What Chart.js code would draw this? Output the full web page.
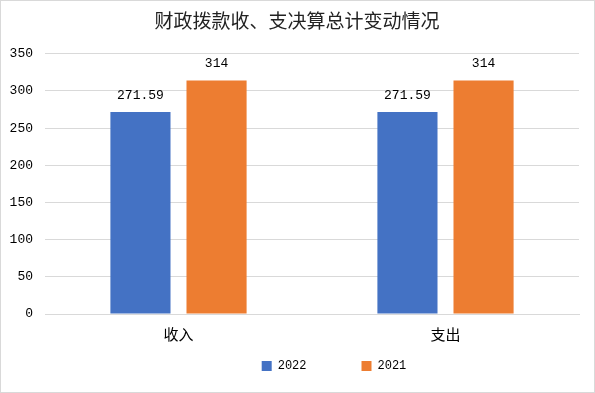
<!DOCTYPE html>
<html lang="zh">
<head>
    <meta charset="UTF-8">
    <title>财政拨款收、支决算总计变动情况</title>
    <script src="https://cdn.jsdelivr.net/npm/chart.js"></script>
    <style>
        html, body { margin: 0; padding: 0; background: #fff; }
        #wrap {
            width: 593px;
            height: 391px;
            border: 1px solid #d9d9d9;
        }
    </style>
</head>
<body>
    <div id="wrap"><canvas id="fundChart" width="593" height="391"></canvas></div>
    <script>
        // 数据
        const categories = ['收入', '支出'];
        const series2022 = [271.59, 271.59];
        const series2021 = [314, 314];
        const yTicks = [0, 50, 100, 150, 200, 250, 300, 350];

        const cjkFont = '"Noto Sans CJK SC", sans-serif';
        const monoFont = '"Liberation Mono", "DejaVu Sans Mono", monospace';

        // 柱顶数值标签
        const valueLabels = {
            id: 'valueLabels',
            afterDatasetsDraw(chart) {
                const ctx = chart.ctx;
                ctx.save();
                ctx.font = '13px ' + monoFont;
                ctx.fillStyle = '#000';
                ctx.textAlign = 'center';
                ctx.textBaseline = 'middle';
                chart.data.datasets.forEach((ds, i) => {
                    chart.getDatasetMeta(i).data.forEach((bar, j) => {
                        ctx.fillText(String(ds.data[j]), bar.x, bar.y - 17);
                    });
                });
                ctx.restore();
            }
        };

        // 标题、图例位置微调（Excel 式布局）
        const layoutTweaks = {
            id: 'layoutTweaks',
            afterLayout(chart) {
                const lg = chart.legend;
                lg.top = 304;
                lg.bottom = 391;
                lg.left += 44;
                lg.right += 44;
                const tb = chart.titleBlock;
                if (tb) {
                    tb.left += 7;
                    tb.right += 7;
                }
            }
        };

        const ctx = document.getElementById('fundChart').getContext('2d');
        new Chart(ctx, {
            type: 'bar',
            data: {
                labels: categories,
                datasets: [
                    { label: '2022', data: series2022, backgroundColor: '#4472C4' },
                    { label: '2021', data: series2021, backgroundColor: '#ED7D31' }
                ]
            },
            options: {
                responsive: false,
                animation: false,
                categoryPercentage: 0.57,
                barPercentage: 0.79,
                layout: { padding: { left: 0, right: 15, top: 0, bottom: 10 } },
                plugins: {
                    title: {
                        display: true,
                        text: '财政拨款收、支决算总计变动情况',
                        color: '#222',
                        font: { family: cjkFont, size: 19, weight: 'normal' },
                        padding: { top: 8, bottom: 22 }
                    },
                    legend: {
                        position: 'bottom',
                        maxHeight: 36,
                        labels: {
                            boxWidth: 10,
                            boxHeight: 10,
                            padding: 55,
                            color: '#000',
                            font: { family: monoFont, size: 12 }
                        }
                    },
                    tooltip: { enabled: false }
                },
                scales: {
                    x: {
                        grid: { display: false },
                        border: { color: '#d9d9d9' },
                        ticks: {
                            color: '#000',
                            font: { family: cjkFont, size: 15 },
                            padding: 3
                        }
                    },
                    y: {
                        min: 0,
                        max: 350,
                        afterBuildTicks(axis) {
                            axis.ticks = yTicks.map(v => ({ value: v }));
                        },
                        afterFit(axis) { axis.width = 44; },
                        grid: { color: '#d9d9d9', drawTicks: false },
                        border: { display: false },
                        ticks: {
                            color: '#000',
                            font: { family: monoFont, size: 13 },
                            padding: 12
                        }
                    }
                }
            },
            plugins: [valueLabels, layoutTweaks]
        });
    </script>
</body>
</html>
